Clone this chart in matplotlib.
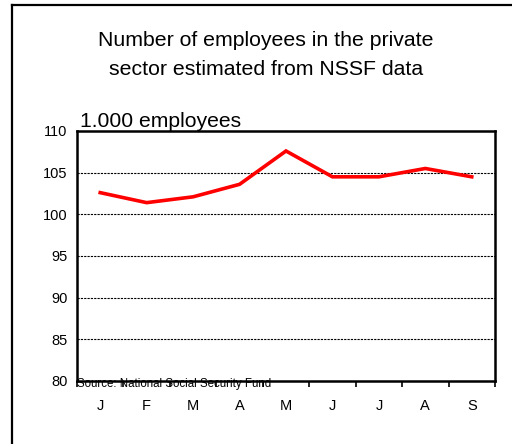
import numpy as np
import matplotlib.pyplot as plt
from matplotlib.lines import Line2D

plt.rcParams['font.family'] = ['Liberation Sans', 'DejaVu Sans']

months = ["J", "F", "M", "A", "M", "J", "J", "A", "S"]
employees = [102.6, 101.4, 102.1, 103.6, 107.6, 104.5, 104.5, 105.5, 104.5]
y_ticks = [80, 85, 90, 95, 100, 105, 110]

fig = plt.figure(figsize=(5.12, 4.44), dpi=100)
ax = fig.add_axes([0.1504, 0.1419, 0.8164, 0.5631])

x = np.arange(len(months))
ax.plot(x, employees, color="#ff0000", linewidth=2.6, solid_joinstyle="miter")

ax.set_xlim(-0.5, len(months) - 0.5)
ax.set_ylim(80, 110)
ax.set_yticks(y_ticks)
ax.set_yticklabels([str(v) for v in y_ticks], fontsize=10.5)
ax.tick_params(axis="y", length=0, pad=7)

ax.set_xticks(x)
ax.set_xticklabels(months, fontsize=10.5)
ax.set_xticks(np.arange(-0.5, len(months)), minor=True)
ax.tick_params(axis="x", which="major", length=0, pad=13)
ax.tick_params(axis="x", which="minor", length=4, width=1.2, direction="out")

for v in y_ticks[1:-1]:
    ax.axhline(v, color="black", linestyle=(0, (2, 1)), linewidth=0.8, zorder=0)

for s in ax.spines.values():
    s.set_linewidth(1.8)

fig.text(0.5195, 0.8964, "Number of employees in the private", ha="center", va="baseline", fontsize=15.3)
fig.text(0.5195, 0.8311, "sector estimated from NSSF data", ha="center", va="baseline", fontsize=15.3)
fig.text(0.157, 0.714, "1.000 employees", ha="left", va="baseline", fontsize=15.2)
fig.text(0.151, 0.136, "Source: National Social Security Fund", ha="left", va="center", fontsize=8.3)

# outer frame (left and top edge only)
fig.add_artist(Line2D([12 / 512, 12 / 512], [0, 1 - 5 / 444], transform=fig.transFigure, color="black", linewidth=1.6))
fig.add_artist(Line2D([12 / 512, 1], [1 - 5 / 444, 1 - 5 / 444], transform=fig.transFigure, color="black", linewidth=1.6))

fig.savefig("out.png", dpi=100)
